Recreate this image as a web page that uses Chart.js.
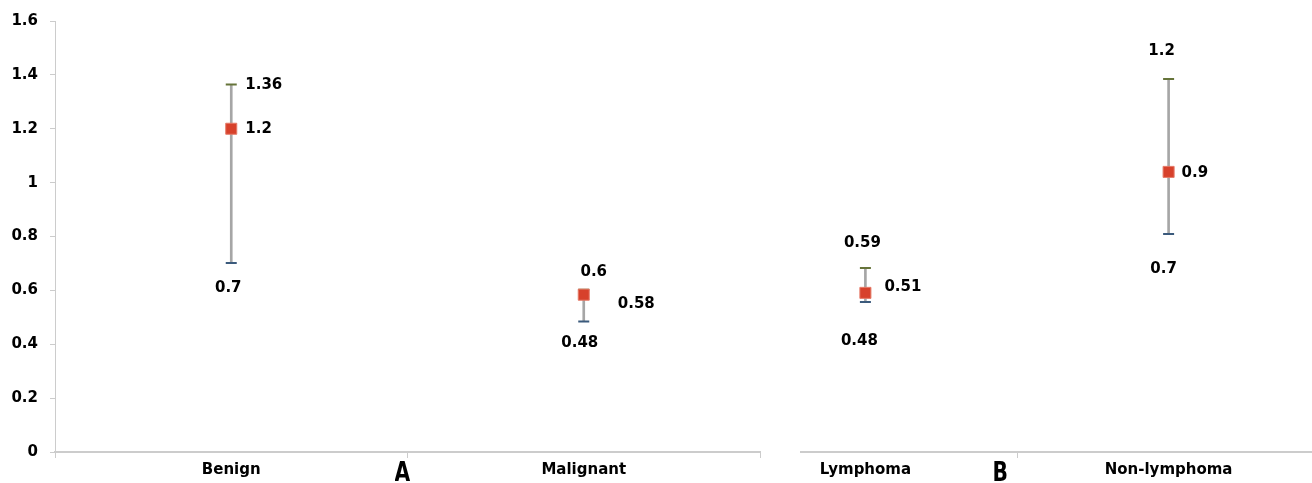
<!DOCTYPE html>
<html lang="en">
<head>
    <title>Confidence intervals A / B</title>
    <meta charset="UTF-8">
    <script src="https://cdn.jsdelivr.net/npm/chart.js"></script>
    <style>
        body { margin: 0; width: 1312px; height: 483px; overflow: hidden; position: relative; background: #fff; }
        #panelA { position: absolute; left: 0; top: 0; width: 770px; height: 483px; }
        #panelB { position: absolute; left: 800px; top: 0; width: 512px; height: 483px; overflow: hidden; }
        #panelBInner { position: absolute; left: -95px; top: 0; width: 624px; height: 483px; }
        .panelLetter { position: absolute; top: 458px; font: bold 27px "DejaVu Sans", Verdana, sans-serif; line-height: 1; transform: scaleX(0.75); transform-origin: center; }
    </style>
</head>
<body>
    <div id="panelA"><canvas id="chartA"></canvas></div>
    <div id="panelB"><div id="panelBInner"><canvas id="chartB"></canvas></div></div>
    <span class="panelLetter" style="left: 392px;">A</span>
    <span class="panelLetter" style="left: 990px;">B</span>

    <script>
        // Panel A data
        const categoriesA = ['Benign', 'Malignant'];
        const upperA = [1.364, 0.602];
        const meanA = [1.2, 0.584];
        const lowerA = [0.702, 0.484];
        const upperLabelsA = ['1.36', '0.6'];
        const meanLabelsA = ['1.2', '0.58'];
        const lowerLabelsA = ['0.7', '0.48'];

        // Panel B data
        const categoriesB = ['Lymphoma', 'Non-lymphoma'];
        const upperB = [0.68, 1.378];
        const meanB = [0.588, 1.035];
        const lowerB = [0.554, 0.806];
        const upperLabelsB = ['0.59', '1.2'];
        const meanLabelsB = ['0.51', '0.9'];
        const lowerLabelsB = ['0.48', '0.7'];

        const yTicks = [0, 0.2, 0.4, 0.6, 0.8, 1, 1.2, 1.4, 1.6];

        // where each value label sits relative to its marker (pixels)
        const offsetsA = {
            upper: [{ dx: 14, dy: 1, align: 'left' }, { dx: 10, dy: -18, align: 'center' }],
            mean: [{ dx: 14, dy: 0, align: 'left' }, { dx: 34, dy: 9, align: 'left' }],
            lower: [{ dx: -3, dy: 25, align: 'center' }, { dx: -4, dy: 21, align: 'center' }],
        };
        const offsetsB = {
            upper: [{ dx: -3, dy: -25, align: 'center' }, { dx: -7, dy: -28, align: 'center' }],
            mean: [{ dx: 19, dy: -6, align: 'left' }, { dx: 13, dy: 1, align: 'left' }],
            lower: [{ dx: -6, dy: 39, align: 'center' }, { dx: -5, dy: 35, align: 'center' }],
        };

        const axisColor = '#cccccc';
        const fontFamily = '"DejaVu Sans", Verdana, sans-serif';
        const labelFont = 'bold 15px ' + fontFamily;

        // Draws the number next to each marker
        const valueLabelPlugin = {
            id: 'valueLabels',
            afterDatasetsDraw(chart) {
                const ctx = chart.ctx;
                ctx.save();
                ctx.font = labelFont;
                ctx.fillStyle = '#000';
                ctx.textBaseline = 'middle';
                chart.data.datasets.forEach((ds, i) => {
                    if (!ds.valueLabels) return;
                    const meta = chart.getDatasetMeta(i);
                    meta.data.forEach((pt, j) => {
                        const off = ds.labelOffsets[j];
                        ctx.textAlign = off.align;
                        ctx.fillText(ds.valueLabels[j], pt.x + off.dx, pt.y + off.dy);
                    });
                });
                ctx.restore();
            },
        };

        function buildChart(canvasId, categories, upper, mean, lower, upperLabels, meanLabels, lowerLabels, offsets, showY) {
            const ctx = document.getElementById(canvasId).getContext('2d');
            return new Chart(ctx, {
                data: {
                    labels: categories,
                    datasets: [
                        {
                            type: 'bar',
                            data: lower.map((v, i) => [v, upper[i]]),
                            backgroundColor: '#a6a6a6',
                            barThickness: 2,
                            order: 4,
                        },
                        {
                            type: 'line',
                            data: upper,
                            showLine: false,
                            pointStyle: 'line',
                            pointRadius: 5.5,
                            pointBorderWidth: 2,
                            pointBorderColor: '#66743a',
                            valueLabels: upperLabels,
                            labelOffsets: offsets.upper,
                            order: 3,
                        },
                        {
                            type: 'line',
                            data: lower,
                            showLine: false,
                            pointStyle: 'line',
                            pointRadius: 5.5,
                            pointBorderWidth: 2,
                            pointBorderColor: '#3b5a7c',
                            valueLabels: lowerLabels,
                            labelOffsets: offsets.lower,
                            order: 2,
                        },
                        {
                            type: 'line',
                            data: mean,
                            showLine: false,
                            pointStyle: 'rect',
                            pointRadius: 7.8,
                            pointBorderWidth: 1,
                            pointBackgroundColor: '#d7412b',
                            pointBorderColor: '#e57a68',
                            valueLabels: meanLabels,
                            labelOffsets: offsets.mean,
                            order: 1,
                        },
                    ],
                },
                options: {
                    responsive: true,
                    maintainAspectRatio: false,
                    animation: false,
                    layout: { padding: { top: 19, right: showY ? 10 : 0, left: 0, bottom: 0 } },
                    plugins: {
                        legend: { display: false },
                        tooltip: { enabled: false },
                    },
                    scales: {
                        x: {
                            offset: true,
                            afterFit: (scale) => { scale.height = 31; },
                            border: { color: axisColor, width: 2 },
                            grid: { offset: true, drawOnChartArea: false, tickLength: 6, color: axisColor },
                            ticks: {
                                color: '#000',
                                padding: 3,
                                font: { family: fontFamily, size: 15, weight: 'bold' },
                            },
                        },
                        y: {
                            display: showY,
                            min: 0,
                            max: 1.6,
                            afterFit: (scale) => { scale.width = showY ? 55 : 0; },
                            afterBuildTicks: (scale) => { scale.ticks = yTicks.map(v => ({ value: v })); },
                            border: { color: axisColor, width: 1 },
                            grid: { drawOnChartArea: false, tickLength: 5, color: axisColor },
                            ticks: {
                                color: '#000',
                                padding: 12,
                                callback: (v) => String(Math.round(v * 10) / 10),
                                font: { family: fontFamily, size: 15, weight: 'bold' },
                            },
                        },
                    },
                },
                plugins: [valueLabelPlugin],
            });
        }

        buildChart('chartA', categoriesA, upperA, meanA, lowerA, upperLabelsA, meanLabelsA, lowerLabelsA, offsetsA, true);
        buildChart('chartB', categoriesB, upperB, meanB, lowerB, upperLabelsB, meanLabelsB, lowerLabelsB, offsetsB, false);
    </script>
</body>
</html>
